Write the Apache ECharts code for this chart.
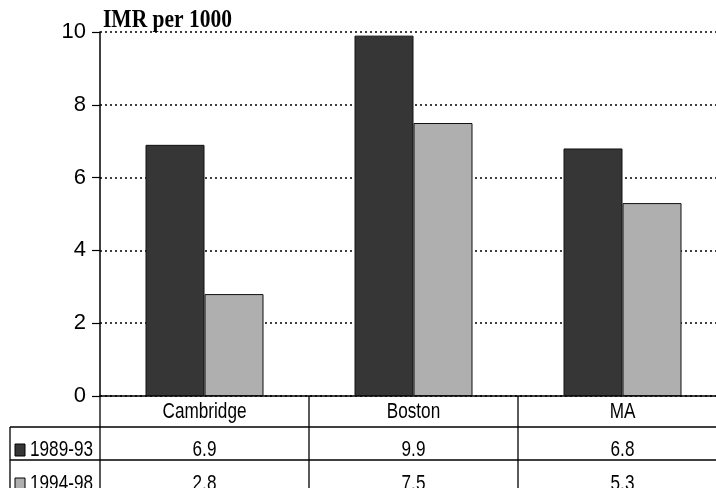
<!DOCTYPE html>
<html>
<head>
<meta charset="utf-8">
<script src="https://cdn.jsdelivr.net/npm/echarts@6/dist/echarts.min.js"></script>
<style>
  html, body { margin: 0; padding: 0; background: #fff; overflow: hidden; }
  #chart { width: 727px; height: 488px; }
</style>
</head>
<body>
<div id="chart"></div>
<script>
// Infant mortality rate per 1000, two five-year periods
const categories = ['Cambridge', 'Boston', 'MA'];
const seriesNames = ['1989-93', '1994-98'];
const period1 = [6.9, 9.9, 6.8];
const period2 = [2.8, 7.5, 5.3];
const yTicks = [0, 2, 4, 6, 8, 10];

const darkFill = '#363636';
const lightFill = '#afafaf';
const FONT = '"Liberation Sans", Arial, sans-serif';

const chart = echarts.init(document.getElementById('chart'));

const gridLeft = 100, gridTop = 32, gridBottom = 396;
const W = 727;

chart.setOption({
  animation: false,
  backgroundColor: '#fff',
  grid: { left: gridLeft, top: gridTop, right: 0, bottom: 488 - gridBottom },
  xAxis: {
    type: 'category',
    data: categories,
    axisLine: { lineStyle: { color: '#000', width: 1.5 } },
    axisTick: { show: false },
    axisLabel: { show: false }
  },
  yAxis: {
    type: 'value',
    min: yTicks[0], max: yTicks[yTicks.length - 1], interval: 2,
    axisLine: { show: true, lineStyle: { color: '#000', width: 1.5 } },
    axisTick: { show: true, length: 8, lineStyle: { color: '#000', width: 1.2 } },
    axisLabel: { fontFamily: FONT, fontSize: 22, color: '#000', margin: 14 },
    splitLine: { lineStyle: { color: '#000', type: [2, 3], width: 1.5 } }
  },
  series: [
    {
      name: seriesNames[0], type: 'bar', data: period1,
      barWidth: 59, barGap: '0%',
      itemStyle: { color: darkFill, borderColor: '#111', borderWidth: 1 }
    },
    {
      name: seriesNames[1], type: 'bar', data: period2,
      barWidth: 59, barGap: '0%',
      itemStyle: { color: lightFill, borderColor: '#111', borderWidth: 1 }
    }
  ]
});

// Axis caption plus the data table under the plot, laid out from the category axis
function buildTable() {
  const els = [];
  els.push({
    type: 'text', x: 103, y: 33, scaleX: 0.86,
    style: {
      text: 'IMR per 1000',
      font: 'bold 25px "Liberation Serif", "Times New Roman", serif',
      fill: '#000', align: 'left', verticalAlign: 'bottom'
    },
    z: 10
  });
  const line = (x1, y1, x2, y2) => els.push({
    type: 'line', shape: { x1, y1, x2, y2 },
    style: { stroke: '#000', lineWidth: 1.3 }, z: 10
  });
  const text = (x, y, s, align) => els.push({
    type: 'text', x, y, scaleX: 0.78,
    style: { text: s, font: '22px ' + FONT, fill: '#000', align: align || 'center', verticalAlign: 'middle' },
    z: 10
  });

  const yHeadText = 412, yRow1Text = 450, yRow2Text = 484;
  const yLine1 = 427, yLine2 = 460;
  const left = 10;

  const centers = categories.map(c => chart.convertToPixel({ xAxisIndex: 0 }, c));
  const step = centers.length > 1 ? centers[1] - centers[0] : 200;
  const bounds = centers.map(c => c + step / 2);

  line(left, yLine1, W, yLine1);
  line(left, yLine2, W, yLine2);
  line(left, yLine1, left, 488);
  line(gridLeft, gridBottom, gridLeft, 488);
  bounds.slice(0, -1).forEach(x => line(x, gridBottom, x, 488));

  categories.forEach((c, i) => {
    text(centers[i], yHeadText, c);
    text(centers[i], yRow1Text, period1[i].toFixed(1));
    text(centers[i], yRow2Text, period2[i].toFixed(1));
  });

  // legend keys
  [[yRow1Text, darkFill, seriesNames[0]], [yRow2Text, lightFill, seriesNames[1]]].forEach(([cy, fill, name]) => {
    els.push({
      type: 'rect', shape: { x: 15, y: cy - 6, width: 10, height: 12 },
      style: { fill, stroke: '#000', lineWidth: 1 }, z: 10
    });
    text(30, cy, name, 'left');
  });

  chart.setOption({ graphic: els });
}
buildTable();
</script>
</body>
</html>
